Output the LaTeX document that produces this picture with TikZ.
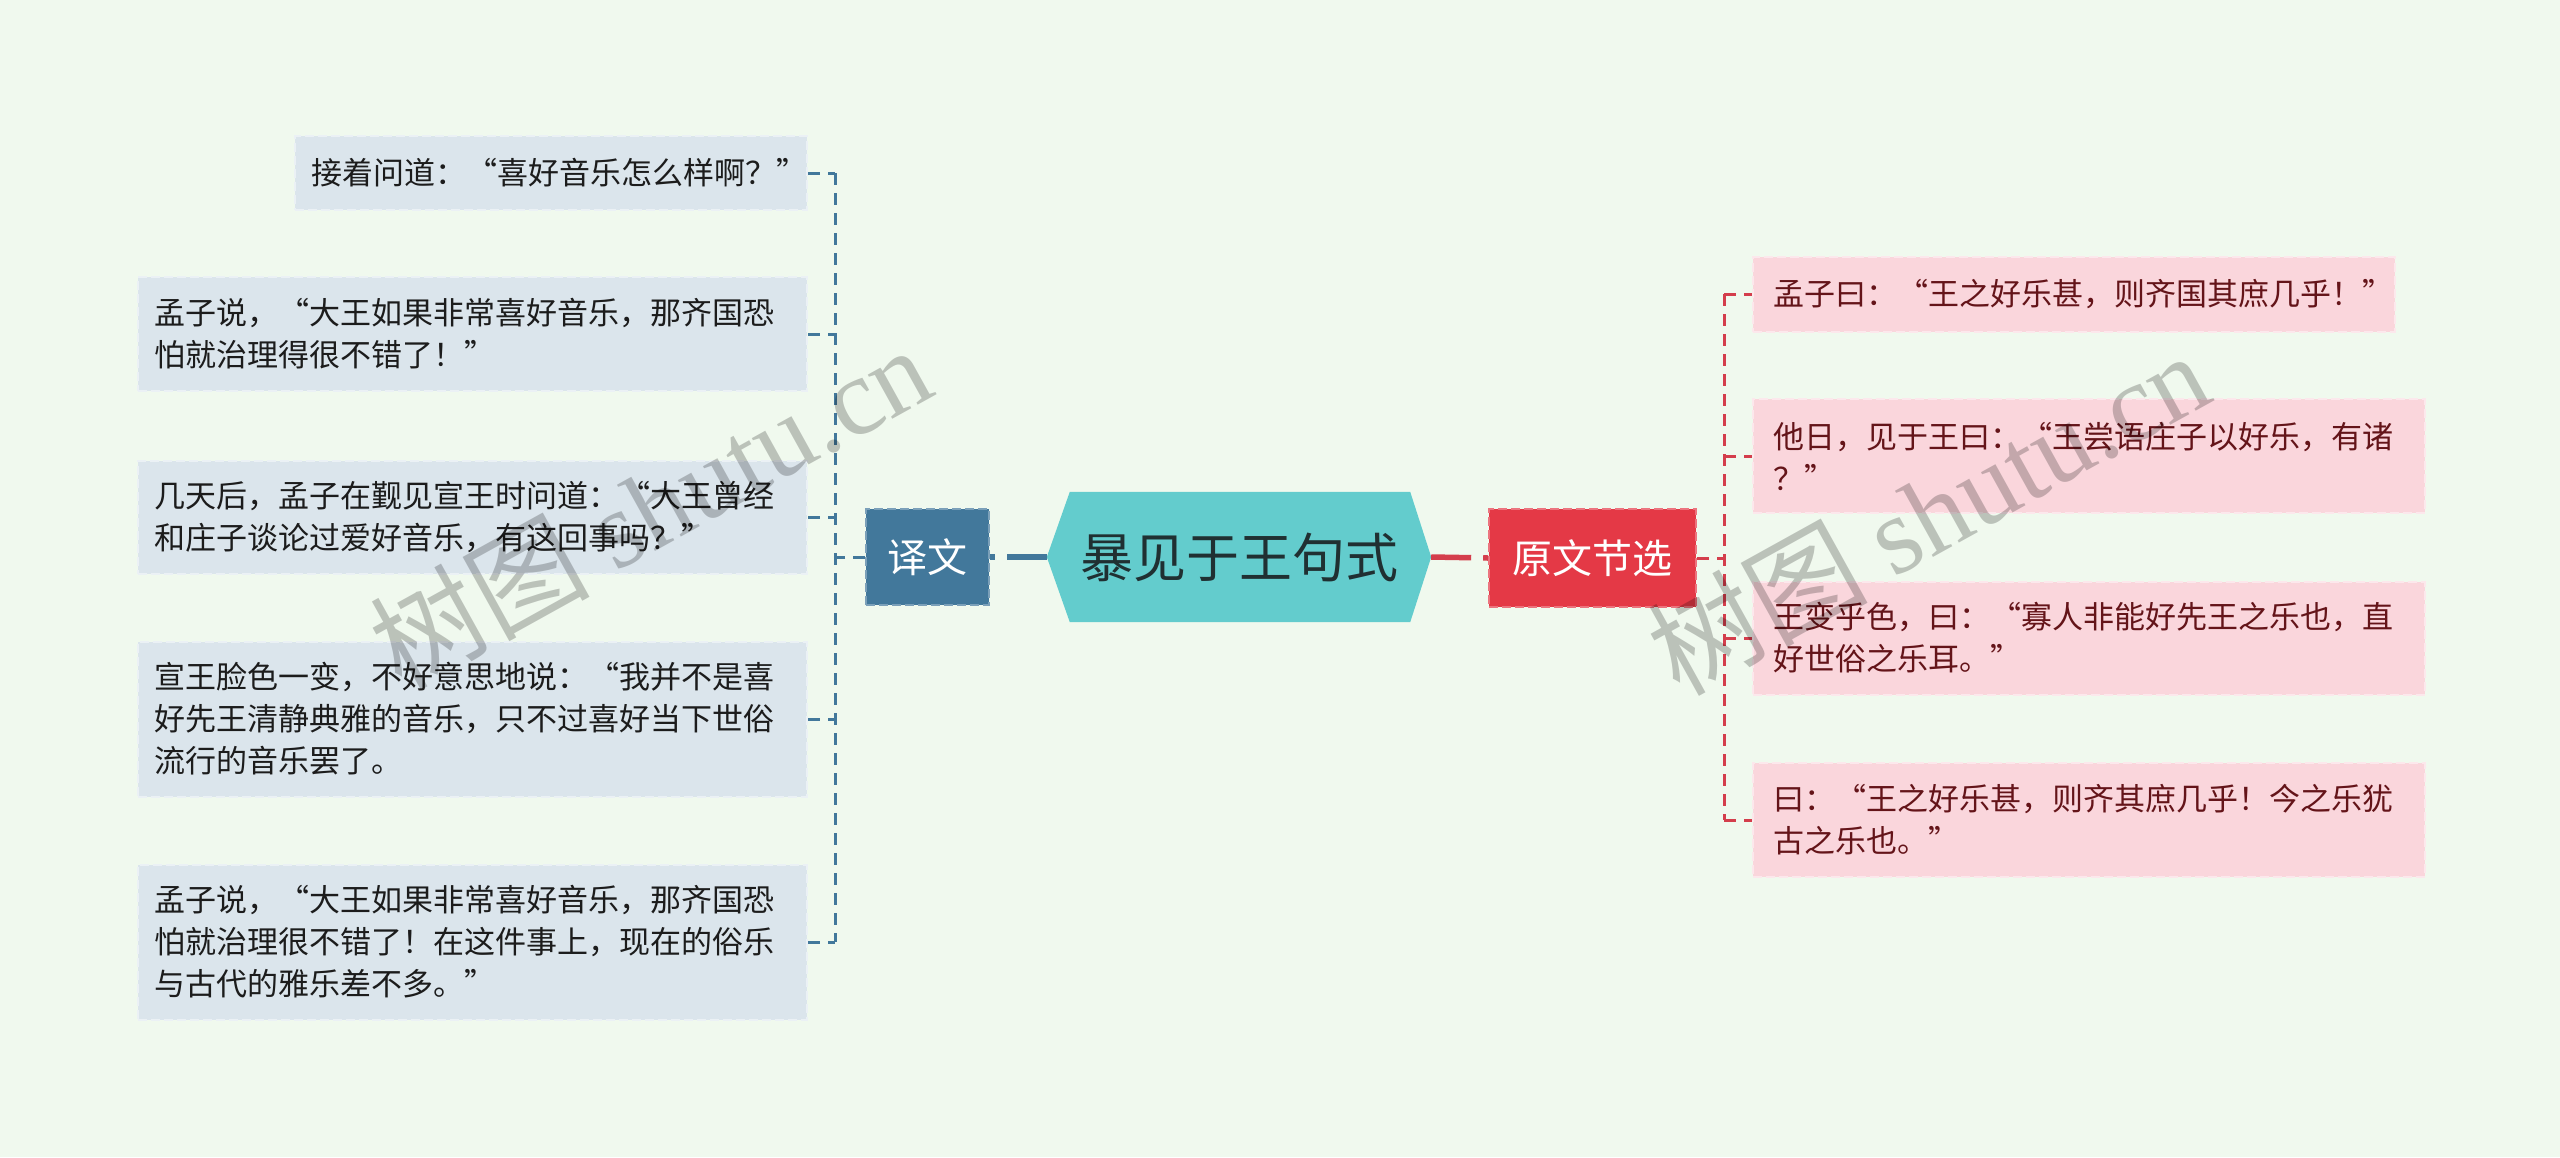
\documentclass[tikz,border=0pt]{standalone}
\usepackage{fontspec}
\setmainfont{Noto Sans CJK SC}
\newfontfamily\wmlatin{Liberation Serif}
\usetikzlibrary{backgrounds}
\definecolor{bgc}{RGB}{240,249,238}
\definecolor{rootc}{RGB}{99,204,205}
\definecolor{roottext}{RGB}{32,48,50}
\definecolor{bluec}{RGB}{66,120,155}
\definecolor{redc}{RGB}{228,57,70}
\definecolor{redline}{RGB}{212,62,76}
\definecolor{lfill}{RGB}{219,229,236}
\definecolor{rfill}{RGB}{250,214,220}
\definecolor{ltext}{RGB}{28,28,28}
\definecolor{rtext}{RGB}{100,20,25}
\tikzset{
  boxbase/.style={rectangle, line width=2pt, dash pattern=on 9pt off 4pt, inner ysep=0pt, align=left, anchor=west},
  lbox/.style={boxbase, fill=lfill, draw=lfill!55!white, text=ltext, inner xsep=16pt, font=\fontsize{31}{42}\selectfont},
  rbox/.style={boxbase, fill=rfill, draw=rfill!55!white, text=rtext, inner xsep=20pt, font=\fontsize{31}{42}\selectfont},
  mainbox/.style={rectangle, line width=2pt, dash pattern=on 9pt off 4pt, inner sep=0pt, text=white, font=\fontsize{40}{48}\selectfont},
  lconn/.style={draw=bluec, line width=3pt, dash pattern=on 12pt off 8pt},
  rconn/.style={draw=redline, line width=3pt, dash pattern=on 12pt off 8pt},
  thickconn/.style={line width=5.5pt, dash pattern=on 40pt off 12pt},
  wm/.style={text=black, text opacity=0.22, inner sep=0pt, font=\fontsize{110}{120}\selectfont}
}
\begin{document}
\begin{tikzpicture}[x=1pt,y=-1pt]
\begin{scope}[on background layer]
\fill[bgc] (0,0) rectangle (2560,1157);
\end{scope}
\useasboundingbox (0,0) rectangle (2560,1157);

% root
\node[rectangle, minimum width=384pt, minimum height=130pt, inner sep=0pt, text=roottext,
      font=\fontsize{53}{60}\selectfont] (root) at (1239,557) {暴见于王句式};
\begin{scope}[on background layer]
\fill[rootc] (root.west) -- ([xshift=23pt]root.north west) -- ([xshift=-21pt]root.north east)
  -- (root.east) -- ([xshift=-21pt]root.south east) -- ([xshift=23pt]root.south west) -- cycle;
\end{scope}

% main branches
\node[mainbox, fill=bluec, draw=bluec!70!white, minimum width=123pt, minimum height=96pt] (yiwen) at (927.5,557) {译文};
\node[mainbox, fill=redc, draw=redc!70!white, minimum width=207pt, minimum height=98pt] (yuanwen) at (1592.5,558) {原文节选};

\draw[thickconn, draw=bluec] (root.west) -- (yiwen.east);
\draw[thickconn, draw=redline] (root.east) -- (yuanwen.west);

% left boxes
\node[lbox, text width=480pt, minimum height=74pt] (l1) at (294,173) {接着问道：“喜好音乐怎么样啊？”};
\node[lbox, text width=637pt, minimum height=114pt] (l2) at (137,334) {孟子说，“大王如果非常喜好音乐，那齐国恐\\怕就治理得很不错了！”};
\node[lbox, text width=637pt, minimum height=113pt] (l3) at (137,517) {几天后，孟子在觐见宣王时问道：“大王曾经\\和庄子谈论过爱好音乐，有这回事吗？”};
\node[lbox, text width=637pt, minimum height=155pt] (l4) at (137,719) {宣王脸色一变，不好意思地说：“我并不是喜\\好先王清静典雅的音乐，只不过喜好当下世俗\\流行的音乐罢了。};
\node[lbox, text width=637pt, minimum height=155pt] (l5) at (137,942) {孟子说，“大王如果非常喜好音乐，那齐国恐\\怕就治理很不错了！在这件事上，现在的俗乐\\与古代的雅乐差不多。”};

% right boxes
\node[rbox, text width=602pt, minimum height=75pt] (r1) at (1752,294) {孟子曰：“王之好乐甚，则齐国其庶几乎！”};
\node[rbox, text width=632pt, minimum height=114pt] (r2) at (1752,456) {他日，见于王曰：“王尝语庄子以好乐，有诸\\？”};
\node[rbox, text width=632pt, minimum height=113pt] (r3) at (1752,638) {王变乎色，曰：“寡人非能好先王之乐也，直\\好世俗之乐耳。”};
\node[rbox, text width=632pt, minimum height=114pt] (r4) at (1752,820) {曰：“王之好乐甚，则齐其庶几乎！今之乐犹\\古之乐也。”};

% left connectors
\coordinate (lx) at (835,0);
\draw[lconn] (yiwen.west) -- (yiwen.west -| lx);
\draw[lconn] (l1.east -| lx) -- (l5.east -| lx);
\foreach \n in {l1,l2,l3,l4,l5} \draw[lconn] (\n.east) -- (\n.east -| lx);

% right connectors
\coordinate (rx) at (1724,0);
\draw[rconn] (yuanwen.east) -- (yuanwen.east -| rx);
\draw[rconn] (r1.west -| rx) -- (r4.west -| rx);
\foreach \n in {r1,r2,r3,r4} \draw[rconn] (\n.west -| rx) -- (\n.west);

% watermarks
\node[wm, rotate=29] (wm1) at (650,506) {树图 {\wmlatin shutu.cn}};
\node[wm, rotate=29] (wm2) at (1928,512) {树图 {\wmlatin shutu.cn}};
\end{tikzpicture}
\end{document}
